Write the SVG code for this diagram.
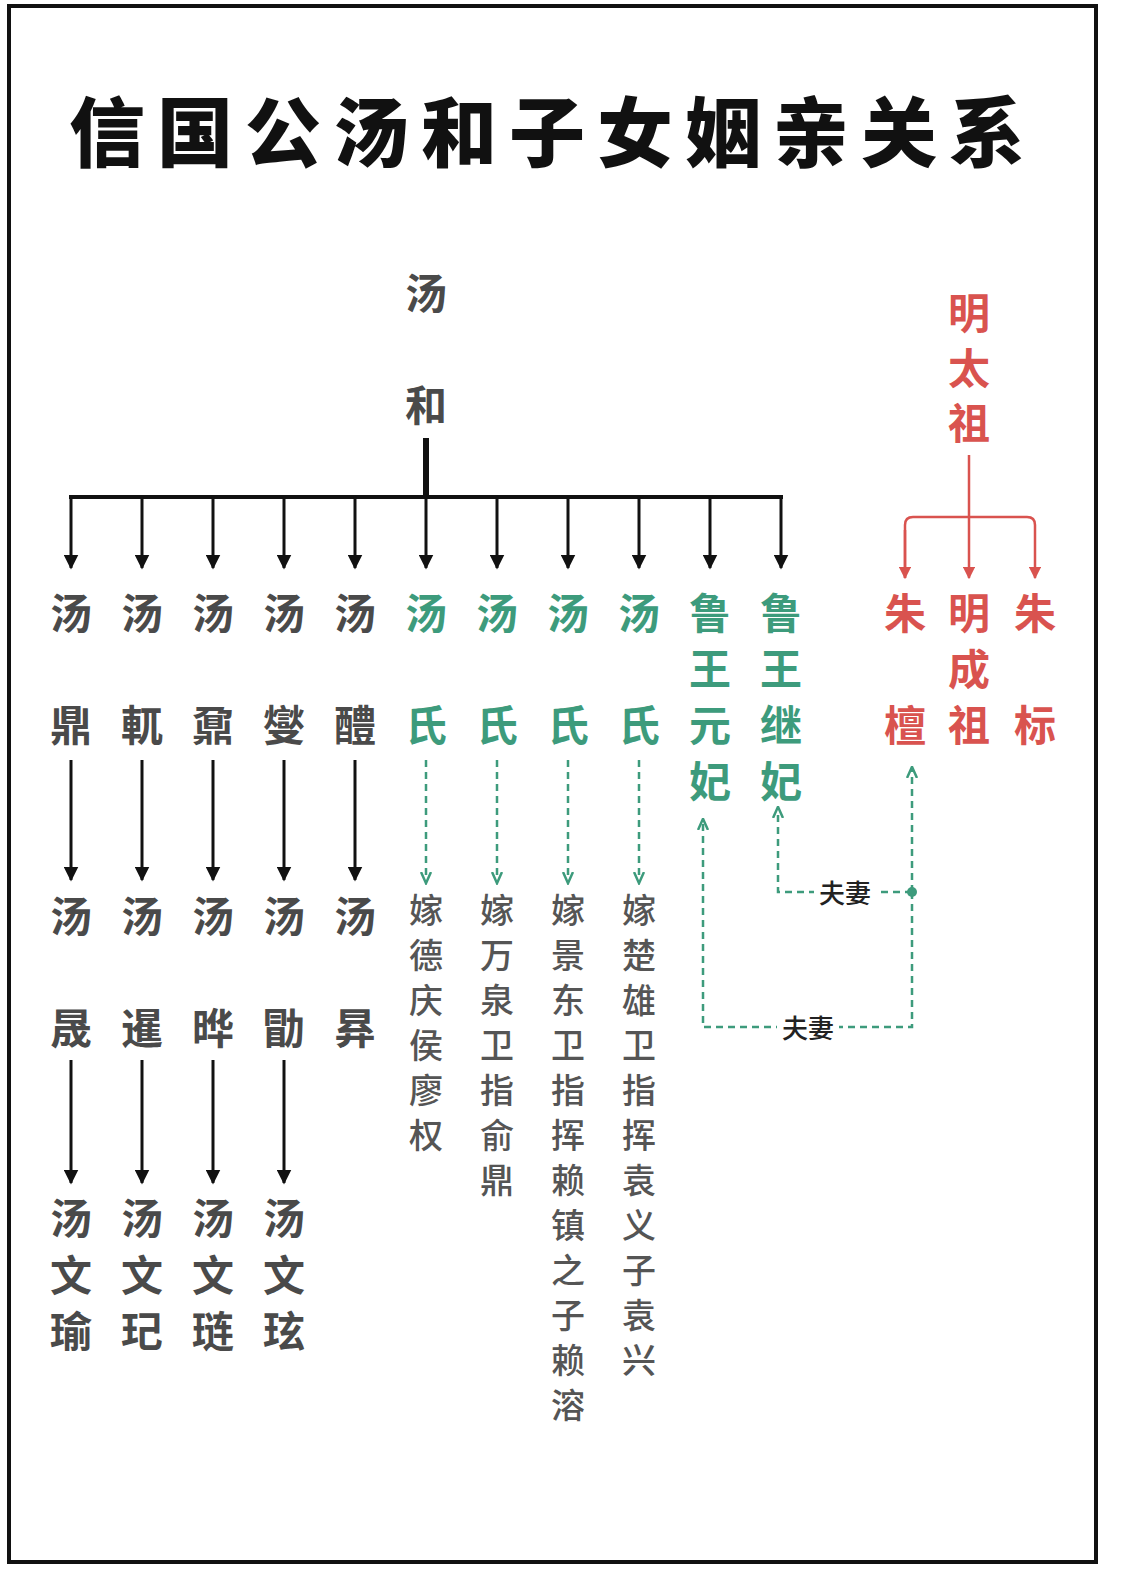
<svg xmlns="http://www.w3.org/2000/svg" width="1125" height="1588" viewBox="0 0 1125 1588">
<defs>
<style>
text{font-family:"Noto Sans CJK SC","Noto Sans",sans-serif;text-anchor:middle;dominant-baseline:central}
.g{fill:#4a4a4a;font-size:42px;font-weight:700}
.gr{fill:#3d9b7c;font-size:42px;font-weight:700}
.r{fill:#d9534f;font-size:42px;font-weight:700}
.s{fill:#555;font-size:34px;font-weight:500}
.k{stroke:#111;stroke-width:3;fill:none}
.rd{stroke:#d9534f;stroke-width:2.5;fill:none}
.d{stroke:#3d9b7c;stroke-width:2.5;fill:none;stroke-dasharray:7 5}
.lab{fill:#222;font-size:26px;font-weight:500}
</style>
<marker id="ak" viewBox="0 0 10 10" refX="9" refY="5" markerWidth="5" markerHeight="5" orient="auto"><path d="M0,0L10,5L0,10z" fill="#111"/></marker>
<marker id="ar" viewBox="0 0 10 10" refX="9" refY="5" markerWidth="5" markerHeight="5" orient="auto"><path d="M0,0L10,5L0,10z" fill="#d9534f"/></marker>
<marker id="ag" viewBox="0 0 10 10" refX="8" refY="5" markerWidth="5" markerHeight="5" orient="auto"><path d="M0,1L9,5L0,9" fill="none" stroke="#3d9b7c" stroke-width="2"/></marker>
</defs>
<rect width="1125" height="1588" fill="#fff"/>
<rect x="9" y="6" width="1087" height="1556" fill="none" stroke="#111" stroke-width="4"/>
<text x="553" y="128" style="font-size:76px;font-weight:900;fill:#111;letter-spacing:12px">信国公汤和子女姻亲关系</text>
<g id="connectors">
<path class="k" d="M426,438V497" style="stroke-width:6"/>
<path class="k" d="M69,497H783" style="stroke-width:4"/>
<g marker-end="url(#ak)">
<path class="k" d="M71,497V568"/><path class="k" d="M142,497V568"/><path class="k" d="M213,497V568"/><path class="k" d="M284,497V568"/><path class="k" d="M355,497V568"/><path class="k" d="M426,497V568"/><path class="k" d="M497,497V568"/><path class="k" d="M568,497V568"/><path class="k" d="M639,497V568"/><path class="k" d="M710,497V568"/><path class="k" d="M781,497V568"/>
<path class="k" d="M71,760V880"/><path class="k" d="M142,760V880"/><path class="k" d="M213,760V880"/><path class="k" d="M284,760V880"/><path class="k" d="M355,760V880"/>
<path class="k" d="M71,1060V1183"/><path class="k" d="M142,1060V1183"/><path class="k" d="M213,1060V1183"/><path class="k" d="M284,1060V1183"/>
</g>
<path class="rd" d="M969,455V578" marker-end="url(#ar)"/>
<path class="rd" d="M905,578V525Q905,517 913,517H1027Q1035,517 1035,525V578" marker-end="url(#ar)"/>
<path class="rd" d="M905,530V578" marker-end="url(#ar)"/>
<g marker-end="url(#ag)">
<path class="d" d="M426,760V882"/><path class="d" d="M497,760V882"/><path class="d" d="M568,760V882"/><path class="d" d="M639,760V882"/>
<path class="d" d="M912,892V768"/>
<path class="d" d="M912,892V1027H703V820"/>
<path class="d" d="M912,892H778V808"/>
</g>
<circle cx="912" cy="892" r="5" fill="#3d9b7c"/>
<rect x="814" y="876" width="62" height="32" fill="#fff"/>
<text class="lab" x="845" y="891">夫妻</text>
<rect x="777" y="1011" width="62" height="32" fill="#fff"/>
<text class="lab" x="808" y="1026">夫妻</text>
</g>
<g id="tanghe"><text class="g" x="426" y="290">汤</text><text class="g" x="426" y="402">和</text></g>
<g id="c1"><text class="g" x="71" y="610">汤</text><text class="g" x="71" y="722">鼎</text><text class="g" x="71" y="913">汤</text><text class="g" x="71" y="1025">晟</text><text class="g" x="71" y="1215">汤</text><text class="g" x="71" y="1272">文</text><text class="g" x="71" y="1328">瑜</text></g>
<g id="c2"><text class="g" x="142" y="610">汤</text><text class="g" x="142" y="722">軏</text><text class="g" x="142" y="913">汤</text><text class="g" x="142" y="1025">暹</text><text class="g" x="142" y="1215">汤</text><text class="g" x="142" y="1272">文</text><text class="g" x="142" y="1328">玘</text></g>
<g id="c3"><text class="g" x="213" y="610">汤</text><text class="g" x="213" y="722">鼐</text><text class="g" x="213" y="913">汤</text><text class="g" x="213" y="1025">晔</text><text class="g" x="213" y="1215">汤</text><text class="g" x="213" y="1272">文</text><text class="g" x="213" y="1328">琏</text></g>
<g id="c4"><text class="g" x="284" y="610">汤</text><text class="g" x="284" y="722">燮</text><text class="g" x="284" y="913">汤</text><text class="g" x="284" y="1025">勖</text><text class="g" x="284" y="1215">汤</text><text class="g" x="284" y="1272">文</text><text class="g" x="284" y="1328">玹</text></g>
<g id="c5"><text class="g" x="355" y="610">汤</text><text class="g" x="355" y="722">醴</text><text class="g" x="355" y="913">汤</text><text class="g" x="355" y="1025">昪</text></g>
<g id="c6"><text class="gr" x="426" y="610">汤</text><text class="gr" x="426" y="722">氏</text>
<text class="s" x="426" y="908">嫁</text><text class="s" x="426" y="953">德</text><text class="s" x="426" y="998">庆</text><text class="s" x="426" y="1043">侯</text><text class="s" x="426" y="1088">廖</text><text class="s" x="426" y="1133">权</text></g>
<g id="c7"><text class="gr" x="497" y="610">汤</text><text class="gr" x="497" y="722">氏</text>
<text class="s" x="497" y="908">嫁</text><text class="s" x="497" y="953">万</text><text class="s" x="497" y="998">泉</text><text class="s" x="497" y="1043">卫</text><text class="s" x="497" y="1088">指</text><text class="s" x="497" y="1133">俞</text><text class="s" x="497" y="1178">鼎</text></g>
<g id="c8"><text class="gr" x="568" y="610">汤</text><text class="gr" x="568" y="722">氏</text>
<text class="s" x="568" y="908">嫁</text><text class="s" x="568" y="953">景</text><text class="s" x="568" y="998">东</text><text class="s" x="568" y="1043">卫</text><text class="s" x="568" y="1088">指</text><text class="s" x="568" y="1133">挥</text><text class="s" x="568" y="1178">赖</text><text class="s" x="568" y="1223">镇</text><text class="s" x="568" y="1268">之</text><text class="s" x="568" y="1313">子</text><text class="s" x="568" y="1358">赖</text><text class="s" x="568" y="1403">溶</text></g>
<g id="c9"><text class="gr" x="639" y="610">汤</text><text class="gr" x="639" y="722">氏</text>
<text class="s" x="639" y="908">嫁</text><text class="s" x="639" y="953">楚</text><text class="s" x="639" y="998">雄</text><text class="s" x="639" y="1043">卫</text><text class="s" x="639" y="1088">指</text><text class="s" x="639" y="1133">挥</text><text class="s" x="639" y="1178">袁</text><text class="s" x="639" y="1223">义</text><text class="s" x="639" y="1268">子</text><text class="s" x="639" y="1313">袁</text><text class="s" x="639" y="1358">兴</text></g>
<g id="c10"><text class="gr" x="710" y="610">鲁</text><text class="gr" x="710" y="666">王</text><text class="gr" x="710" y="722">元</text><text class="gr" x="710" y="778">妃</text></g>
<g id="c11"><text class="gr" x="781" y="610">鲁</text><text class="gr" x="781" y="666">王</text><text class="gr" x="781" y="722">继</text><text class="gr" x="781" y="778">妃</text></g>
<g id="mingtaizu"><text class="r" x="969" y="310">明</text><text class="r" x="969" y="365">太</text><text class="r" x="969" y="420">祖</text></g>
<g id="zhutan"><text class="r" x="905" y="610">朱</text><text class="r" x="905" y="722">檀</text></g>
<g id="mingchengzu"><text class="r" x="969" y="610">明</text><text class="r" x="969" y="666">成</text><text class="r" x="969" y="722">祖</text></g>
<g id="zhubiao"><text class="r" x="1035" y="610">朱</text><text class="r" x="1035" y="722">标</text></g>
</svg>
